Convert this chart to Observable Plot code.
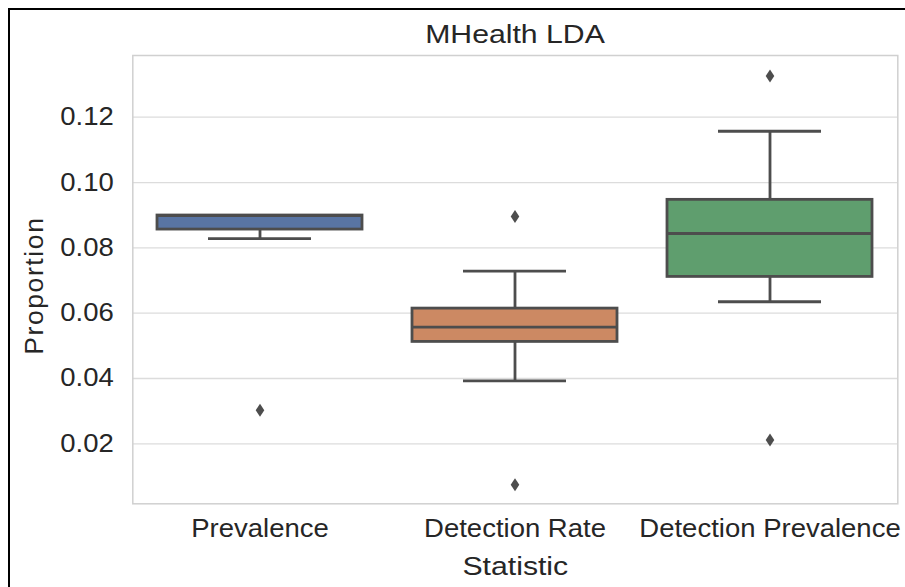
<!DOCTYPE html>
<html><head><meta charset="utf-8">
<script src="https://cdn.jsdelivr.net/npm/d3@7"></script>
<script src="https://cdn.jsdelivr.net/npm/@observablehq/plot@0.6"></script>
<style>
html,body{margin:0;padding:0;background:#fff;overflow:hidden;}
#wrap{position:relative;width:905px;height:587px;}
#frame{position:absolute;left:8px;top:8px;width:1200px;height:1200px;border-left:2px solid #000;border-top:2px solid #000;pointer-events:none;}
#title{position:relative;height:48px;}
#title span{position:absolute;left:514.8px;top:21px;line-height:1;font-family:"Liberation Sans",Arial,sans-serif;font-size:26.5px;color:#262626;white-space:nowrap;transform:translateX(-50%) scaleX(1.14);}
#chart svg{display:block;}
</style></head>
<body><div id="wrap"><div id="title"><span>MHealth LDA</span></div><div id="chart"></div><div id="frame"></div></div>
<script>
const categories = ["Prevalence", "Detection Rate", "Detection Prevalence"];
const q1 = [0.0856, 0.0512, 0.0711];
const median = [0.0899, 0.0557, 0.0844];
const q3 = [0.0899, 0.0614, 0.0947];
const whiskerLow = [0.0828, 0.0393, 0.0635];
const whiskerHigh = [0.0899, 0.0729, 0.1157];
const outlierCategory = ["Prevalence", "Detection Rate", "Detection Rate", "Detection Prevalence", "Detection Prevalence"];
const outlierValue = [0.0303, 0.0896, 0.0075, 0.1326, 0.0212];
const boxColors = ["#5975a4", "#cc8963", "#5f9e6e"];
const yTicks = [0.02, 0.04, 0.06, 0.08, 0.10, 0.12];

const stats = categories.map((c, i) => ({cat: c, q1: q1[i], med: median[i], q3: q3[i], lo: whiskerLow[i], hi: whiskerHigh[i], color: boxColors[i]}));
const outliers = outlierCategory.map((c, i) => ({cat: c, v: outlierValue[i]}));
const lineColor = "#4d4d4d", lw = 2.8;
const thinDiamond = {draw(ctx, size) {const r = Math.sqrt(size / Math.PI); const w = r * 0.66; ctx.moveTo(0, -r); ctx.lineTo(w, 0); ctx.lineTo(0, r); ctx.lineTo(-w, 0); ctx.closePath();}};

const svg = Plot.plot({
  width: 905, height: 539,
  marginTop: 7, marginBottom: 83.7, marginLeft: 132.3, marginRight: 7.7,
  style: {fontFamily: '"Liberation Sans", Arial, sans-serif', fontSize: "25px", color: "#262626", background: "#fff"},
  color: {type: "identity"},
  x: {domain: categories, padding: 0, tickSize: 0, tickPadding: 15, label: null},
  y: {domain: [0.00163, 0.1389], ticks: yTicks, tickFormat: ".2f", tickSize: 0, tickPadding: 19, label: null},
  marks: [
    Plot.ruleY(yTicks, {stroke: "#dcdcdc", strokeWidth: 1.3}),
    Plot.frame({stroke: "#d0d0d0", strokeWidth: 1.5}),
    Plot.ruleX(stats, {x: "cat", y1: "lo", y2: "q1", stroke: lineColor, strokeWidth: lw}),
    Plot.ruleX(stats, {x: "cat", y1: "q3", y2: "hi", stroke: lineColor, strokeWidth: lw}),
    Plot.barY(stats, {x: "cat", y1: "q1", y2: "q3", fill: "color", stroke: lineColor, strokeWidth: lw, insetLeft: 25, insetRight: 25}),
    Plot.tickY(stats, {x: "cat", y: "med", stroke: lineColor, strokeWidth: lw, insetLeft: 25, insetRight: 25}),
    Plot.tickY(stats, {x: "cat", y: "lo", stroke: lineColor, strokeWidth: lw, insetLeft: 76, insetRight: 76}),
    Plot.tickY(stats, {x: "cat", y: "hi", stroke: lineColor, strokeWidth: lw, insetLeft: 76, insetRight: 76}),
    Plot.dot(outliers, {x: "cat", y: "v", symbol: thinDiamond, r: 6.5, fill: lineColor, stroke: "none"}),
    Plot.text(["Proportion"], {frameAnchor: "left", textAnchor: "middle", lineAnchor: "middle", text: d => d, rotate: -90, dx: -98.3, dy: 6, fontSize: 26.5, fill: "#262626"}),
    Plot.text(["Statistic"], {frameAnchor: "bottom", text: d => d, lineAnchor: "top", dy: 52.7, fontSize: 26.5, fill: "#262626"})
  ]
});
document.getElementById("chart").append(svg);
svg.querySelectorAll("text").forEach(t => {
  const s = t.textContent;
  if (!s) return;
  if (s === "Proportion") {
    t.style.letterSpacing = "1.6px";
    return;
  }
  const k = (s === "Statistic") ? 1.14 : 1.1;
  const L = t.getComputedTextLength();
  t.setAttribute("textLength", L * k);
  t.setAttribute("lengthAdjust", "spacingAndGlyphs");
});
</script>
</body></html>
